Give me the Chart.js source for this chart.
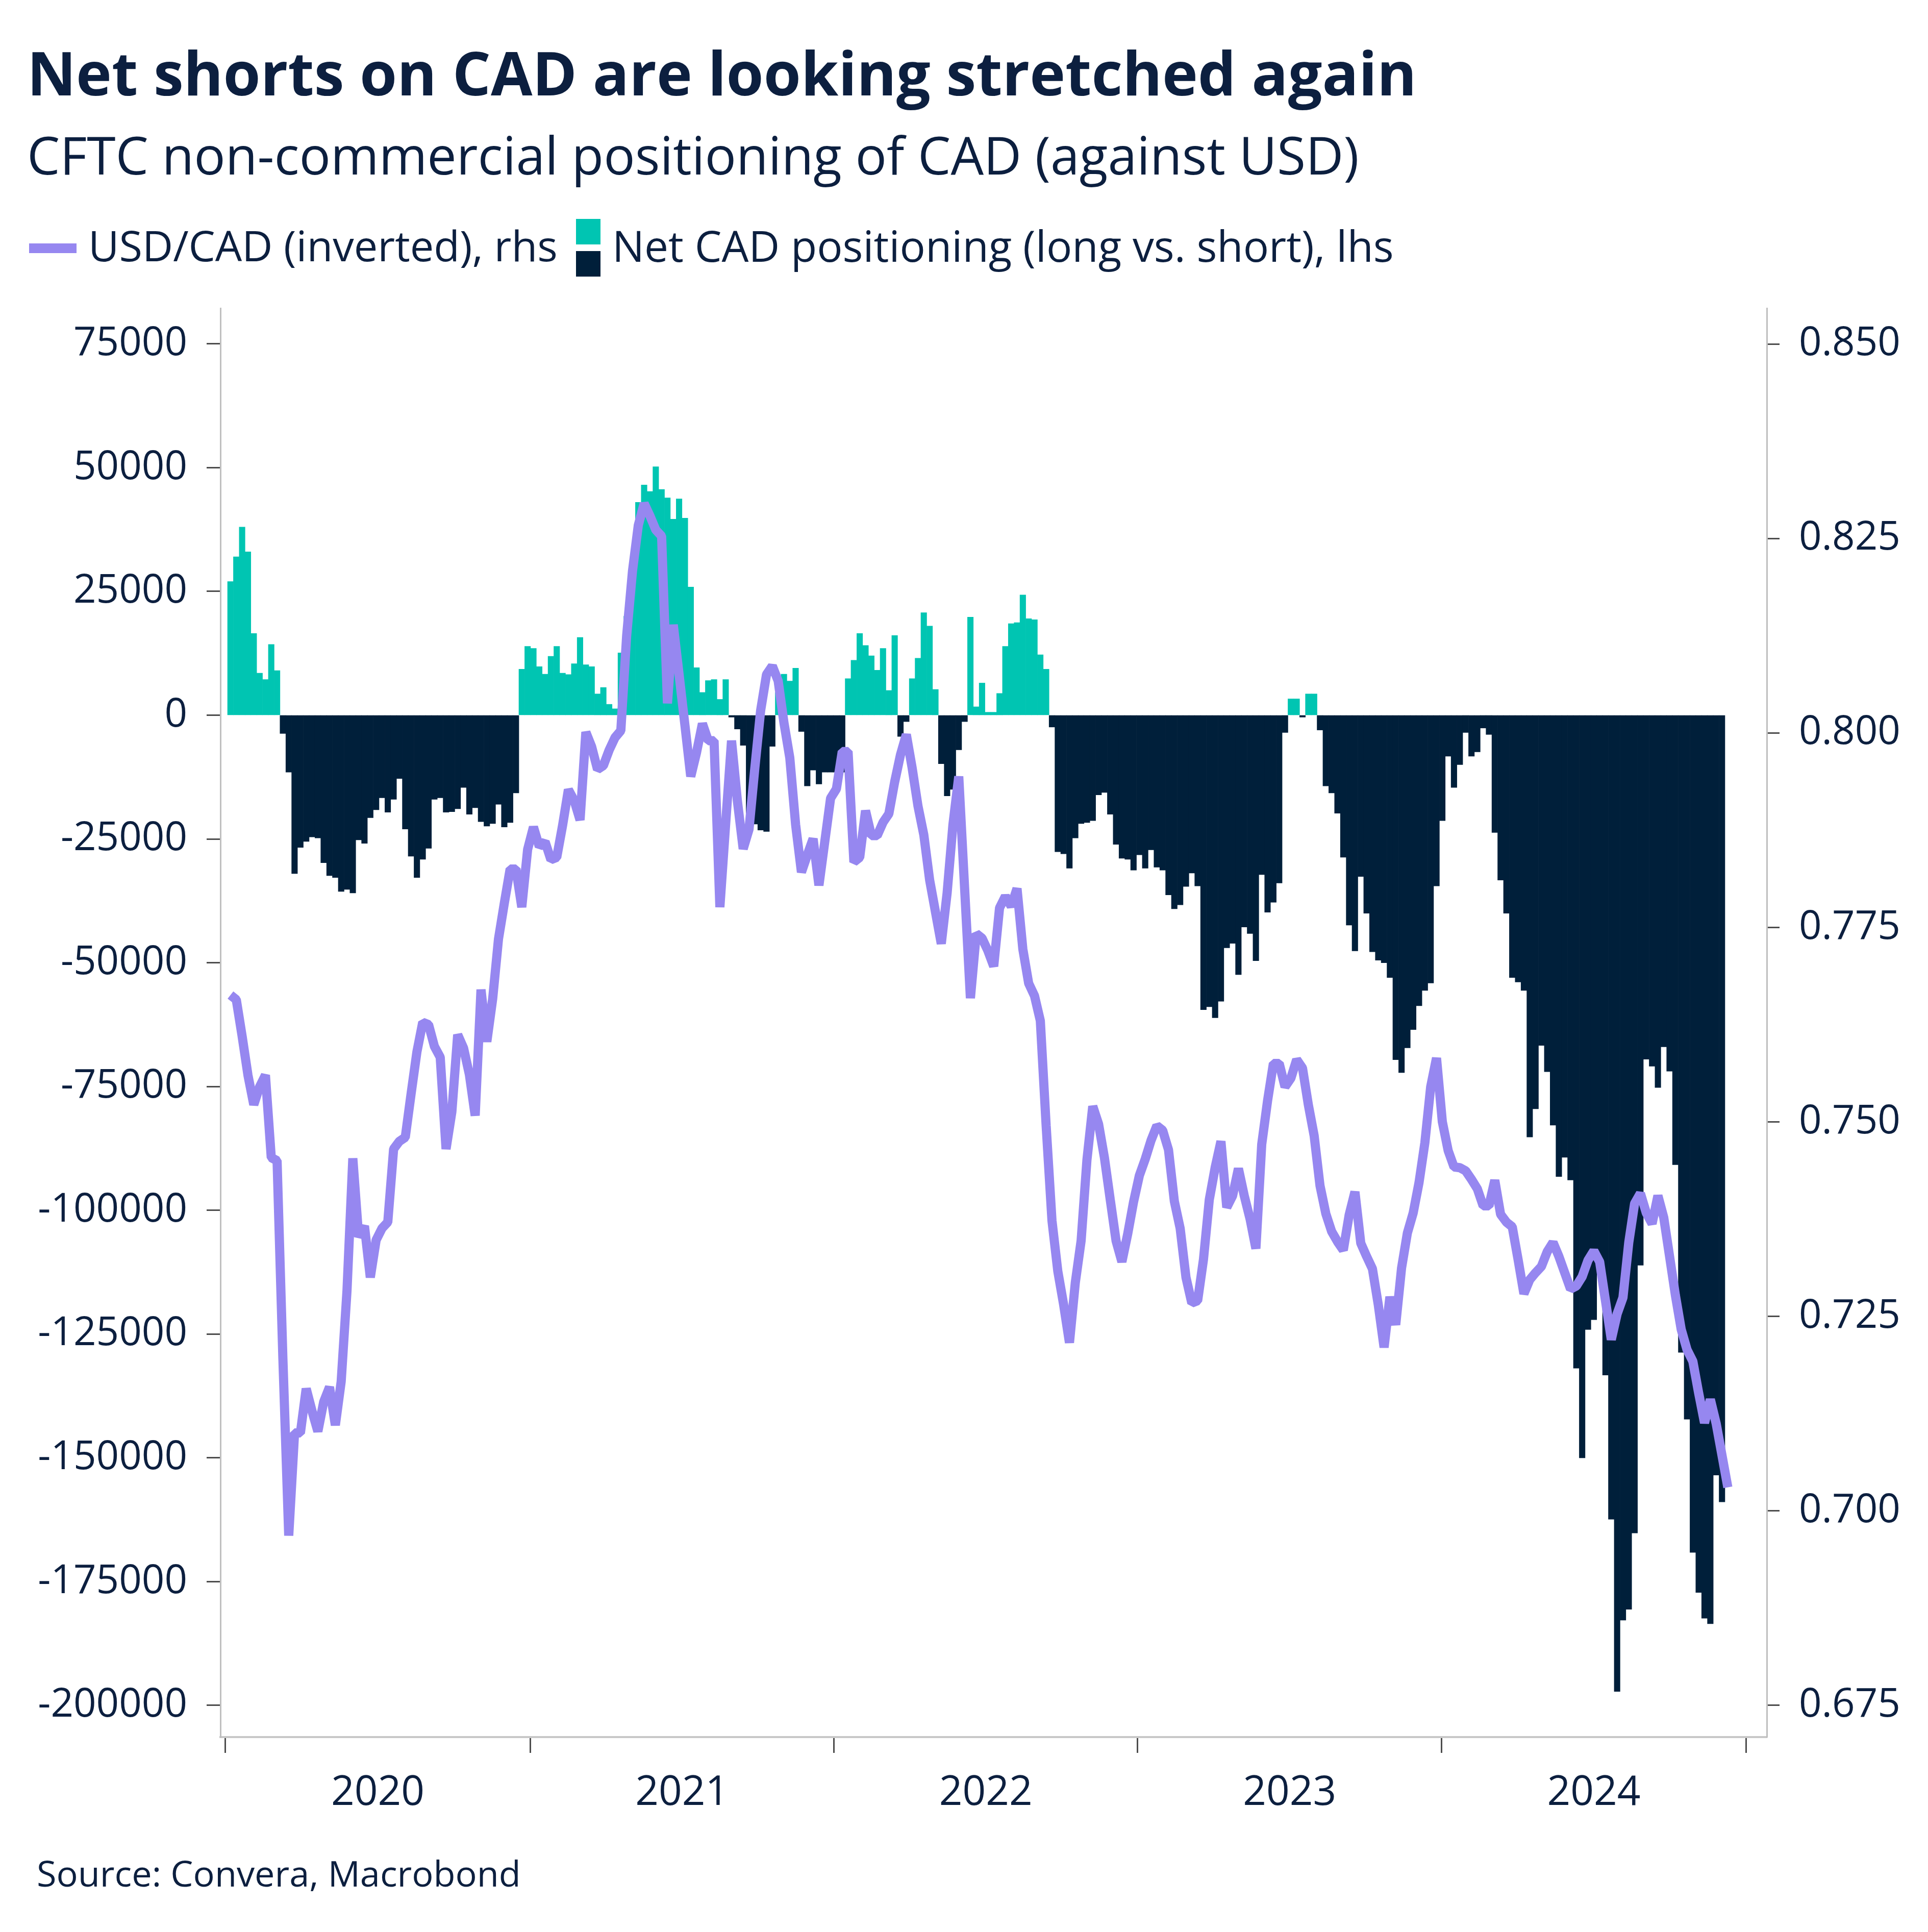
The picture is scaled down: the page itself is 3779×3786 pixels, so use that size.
<!DOCTYPE html>
<html>
<head>
<meta charset="utf-8">
<script src="https://cdn.jsdelivr.net/npm/chart.js@4.4.1/dist/chart.umd.min.js"></script>
<style>
  body { margin: 0; background: #fff; }
  #wrap { position: relative; width: 3779px; height: 3786px; overflow: hidden; font-family: 'Open Sans', sans-serif; color: #0c1f3f; }
  #chart { position: absolute; left: 0; top: 0; }
  .txt { position: absolute; white-space: nowrap; line-height: 1; }
  #title { font-weight: 700; }
  .key { position: absolute; }
</style>
</head>
<body>
<div id="wrap">
  <canvas id="chart" width="3779" height="3786"></canvas>
  <div id="title" class="txt">Net shorts on CAD are looking stretched again</div>
  <div id="subtitle" class="txt">CFTC non-commercial positioning of CAD (against USD)</div>
  <div class="key" style="left:57px;top:477px;width:93px;height:19px;background:#9687f0"></div>
  <div id="leg1" class="txt">USD/CAD (inverted), rhs</div>
  <div class="key" style="left:1129px;top:429px;width:48px;height:50px;background:#00c5b2"></div>
  <div class="key" style="left:1129px;top:492px;width:48px;height:50px;background:#001f3a"></div>
  <div id="leg2" class="txt">Net CAD positioning (long vs. short), lhs</div>
  <div id="source" class="txt">Source: Convera, Macrobond</div>
</div>
<script>
// weekly CFTC net non-commercial CAD position (contracts), first week 2020-01-07
const netPositioning = [
  27000, 32000, 38000, 33000, 16500, 8500, 7200, 14300, 9000, -3700,
  -11500, -32000, -26700, -25500, -24600, -24800, -29800, -32400, -32800, -35600,
  -35200, -35900, -25200, -25900, -20700, -19100, -16700, -19600, -17000, -12800,
  -23000, -28500, -32800, -29100, -26900, -17000, -16700, -19600, -19500, -18900,
  -14600, -20000, -18700, -21500, -22400, -21900, -18000, -22600, -21700, -15700,
  9300, 13900, 13500, 9800, 8300, 11900, 13900, 8500, 8200, 10400,
  15700, 10200, 9800, 4300, 5600, 2200, 1300, 12600, 20000, 30000,
  43000, 46500, 45200, 50200, 45600, 43900, 39600, 43700, 39800, 25900,
  9600, 4600, 7000, 7200, 3200, 7200, -400, -2800, -6100, -23000,
  -22000, -23200, -23500, -6300, 4600, 8300, 6900, 9500, -3300, -14300,
  -11100, -13900, -11500, -11500, -11500, -11500, 7400, 11100, 16500, 14100,
  12000, 9100, 13500, 5000, 16100, -4300, -1300, 7400, 11500, 20700,
  18000, 5200, -9800, -16300, -15000, -7000, -1300, 19800, 1700, 6500,
  600, 600, 4400, 13900, 18500, 18700, 24300, 19500, 19300, 12200,
  9300, -2400, -27600, -28000, -30900, -24800, -21900, -21700, -21300, -16100,
  -15600, -20000, -26100, -28900, -29100, -31300, -28200, -30900, -27200, -30700,
  -31300, -36300, -39100, -38300, -34600, -31900, -34500, -59500, -58900, -61100,
  -57800, -47000, -46100, -52400, -42800, -44100, -49600, -32200, -39800, -37800,
  -33900, -3500, 3300, 3300, -400, 4300, 4300, -3000, -14300, -15700,
  -19800, -28700, -42400, -47600, -32600, -40000, -47800, -49500, -50000, -53000,
  -69600, -72200, -67200, -63500, -58700, -55600, -54100, -34500, -21300, -8300,
  -14600, -10000, -3500, -8300, -7400, -2600, -3900, -23700, -33300, -40000,
  -53000, -53900, -55600, -85200, -79500, -66700, -72000, -82800, -93200, -89300,
  -93900, -131900, -150000, -124100, -122100, -112000, -133300, -162400, -197200, -182800,
  -180600, -165200, -111100, -69500, -70900, -75200, -67000, -71900, -90800, -128700,
  -142200, -169100, -177200, -182400, -183500, -153500, -158900
];

// weekly USD/CAD inverted (i.e. CAD/USD), same weeks plus one
const usdCadInverted = [
  0.7663, 0.7657, 0.7610, 0.7560, 0.7522, 0.7545, 0.7560, 0.7454, 0.7450, 0.7195,
  0.6968, 0.7100, 0.7100, 0.7157, 0.7128, 0.7102, 0.7140, 0.7159, 0.7110, 0.7166,
  0.7283, 0.7453, 0.7352, 0.7366, 0.7300, 0.7348, 0.7363, 0.7371, 0.7465, 0.7475,
  0.7480, 0.7536, 0.7590, 0.7628, 0.7625, 0.7597, 0.7583, 0.7465, 0.7513, 0.7612,
  0.7595, 0.7561, 0.7508, 0.7670, 0.7603, 0.7658, 0.7735, 0.7781, 0.7825, 0.7825,
  0.7776, 0.7850, 0.7879, 0.7854, 0.7860, 0.7837, 0.7840, 0.7881, 0.7927, 0.7913,
  0.7888, 0.8001, 0.7982, 0.7953, 0.7958, 0.7978, 0.7994, 0.8003, 0.8125, 0.8208,
  0.8267, 0.8295, 0.8279, 0.8261, 0.8253, 0.8038, 0.8139, 0.8075, 0.8010, 0.7944,
  0.7975, 0.8012, 0.7990, 0.7990, 0.7776, 0.7884, 0.7990, 0.7913, 0.7851, 0.7876,
  0.7955, 0.8029, 0.8075, 0.8086, 0.8067, 0.8013, 0.7968, 0.7882, 0.7821, 0.7843,
  0.7864, 0.7804, 0.7860, 0.7916, 0.7928, 0.7976, 0.7976, 0.7834, 0.7840, 0.7900,
  0.7868, 0.7868, 0.7885, 0.7896, 0.7937, 0.7972, 0.7998, 0.7955, 0.7906, 0.7869,
  0.7811, 0.7770, 0.7729, 0.7794, 0.7882, 0.7944, 0.7801, 0.7659, 0.7742, 0.7736,
  0.7720, 0.7700, 0.7775, 0.7790, 0.7777, 0.7800, 0.7722, 0.7678, 0.7662, 0.7630,
  0.7495, 0.7373, 0.7308, 0.7265, 0.7216, 0.7293, 0.7347, 0.7451, 0.7520, 0.7497,
  0.7454, 0.7400, 0.7347, 0.7320, 0.7356, 0.7397, 0.7431, 0.7452, 0.7476, 0.7495,
  0.7489, 0.7464, 0.7398, 0.7363, 0.7300, 0.7267, 0.7270, 0.7323, 0.7400, 0.7441,
  0.7475, 0.7390, 0.7405, 0.7440, 0.7405, 0.7375, 0.7337, 0.7471, 0.7527, 0.7575,
  0.7575, 0.7545, 0.7556, 0.7580, 0.7569, 0.7522, 0.7482, 0.7418, 0.7382, 0.7359,
  0.7346, 0.7335, 0.7380, 0.7410, 0.7344, 0.7327, 0.7311, 0.7265, 0.7210, 0.7275,
  0.7239, 0.7312, 0.7357, 0.7383, 0.7422, 0.7473, 0.7545, 0.7582, 0.7500, 0.7463,
  0.7442, 0.7441, 0.7437, 0.7426, 0.7414, 0.7392, 0.7392, 0.7425, 0.7381, 0.7371,
  0.7365, 0.7323, 0.7279, 0.7297, 0.7306, 0.7314, 0.7333, 0.7345, 0.7327, 0.7306,
  0.7285, 0.7289, 0.7301, 0.7322, 0.7334, 0.7320, 0.7270, 0.7220, 0.7253, 0.7274,
  0.7345, 0.7395, 0.7408, 0.7383, 0.7369, 0.7405, 0.7377, 0.7327, 0.7277, 0.7233,
  0.7207, 0.7192, 0.7151, 0.7113, 0.7143, 0.7112, 0.7071, 0.7030
];

const years = ['2020', '2021', '2022', '2023', '2024'];
const leftTicks = [75000, 50000, 25000, 0, -25000, -50000, -75000, -100000, -125000, -150000, -175000, -200000];
const rightTicks = [0.850, 0.825, 0.800, 0.775, 0.750, 0.725, 0.700, 0.675];

const teal = '#00c5b2';
const navy = '#001f3a';
const purple = '#9687f0';
const textColor = '#0c1f3f';

// x axis runs in days from 1 Jan 2020
const DAY = 864e5;
const origin = Date.UTC(2020, 0, 1);
const firstWeek = Date.UTC(2020, 0, 7);
const dayOf = k => (firstWeek - origin) / DAY + 7 * k;
const yearStart = y => (Date.UTC(y, 0, 1) - origin) / DAY;
const bounds = years.map(y => yearStart(+y)).concat(yearStart(+years[years.length - 1] + 1));
const mids = years.map(y => (yearStart(+y) + yearStart(+y + 1)) / 2);
const xTicks = bounds.concat(mids).sort((a, b) => a - b);

// text blocks: fitted to the widths measured on the reference
function placeText(id, x, baseline, width, size) {
  const el = document.getElementById(id);
  el.style.fontSize = size + 'px';
  const w = el.getBoundingClientRect().width;
  const s = size * width / w;
  el.style.fontSize = s + 'px';
  el.style.left = x + 'px';
  el.style.top = (baseline - 0.888 * s) + 'px';
}
function layoutText() {
  placeText('title', 53, 188, 2724, 110);
  placeText('subtitle', 53, 343, 2611, 92);
  placeText('leg1', 173, 513, 920, 76);
  placeText('leg2', 1200, 513, 1532, 76);
  placeText('source', 72, 3697, 949, 76);
}
layoutText();
if (document.fonts) document.fonts.ready.then(layoutText);

Chart.defaults.font.family = "'Open Sans', sans-serif";
Chart.defaults.font.size = 78;
Chart.defaults.color = textColor;

function isYearTick(c) {
  const v = c.tick ? c.tick.value : xTicks[c.index];
  return bounds.includes(v);
}

const ctx = document.getElementById('chart').getContext('2d');
new Chart(ctx, {
  type: 'bar',
  data: {
    datasets: [
      {
        type: 'line',
        label: 'USD/CAD (inverted), rhs',
        data: usdCadInverted.map((v, k) => ({ x: dayOf(k), y: v })),
        yAxisID: 'y2',
        borderColor: purple,
        borderWidth: 18,
        borderJoinStyle: 'bevel',
        pointRadius: 0,
        tension: 0,
        order: 0
      },
      {
        type: 'bar',
        label: 'Net CAD positioning (long vs. short), lhs',
        data: netPositioning.map((v, k) => ({ x: dayOf(k), y: v })),
        yAxisID: 'y',
        backgroundColor: netPositioning.map(v => v >= 0 ? teal : navy),
        barPercentage: 1,
        categoryPercentage: 1,
        borderWidth: 0,
        order: 1
      }
    ]
  },
  options: {
    responsive: false,
    devicePixelRatio: 1,
    animation: false,
    layout: { padding: { top: 604, left: 0, right: 0, bottom: 0 } },
    plugins: { legend: { display: false }, tooltip: { enabled: false } },
    scales: {
      x: {
        type: 'linear',
        min: -6.1,
        max: 1851.8,
        offset: false,
        afterBuildTicks: s => { s.ticks = xTicks.map(v => ({ value: v })); },
        afterFit: s => { s.height = 382; },
        grid: {
          offset: false,
          drawOnChartArea: false,
          tickLength: 31,
          tickWidth: 3,
          tickColor: c => isYearTick(c) ? '#4d4d4d' : 'rgba(0,0,0,0)'
        },
        border: { color: '#c8c8c8', width: 4 },
        ticks: {
          autoSkip: false,
          maxRotation: 0,
          padding: 31,
          font: { size: 80 },
          callback: v => {
            const i = mids.indexOf(v);
            return i >= 0 ? years[i] : '';
          }
        }
      },
      y: {
        position: 'left',
        min: -206400,
        max: 82200,
        afterBuildTicks: s => { s.ticks = leftTicks.map(v => ({ value: v })); },
        afterFit: s => { s.width = 432; },
        grid: { drawOnChartArea: false, tickLength: 27, tickWidth: 3, tickColor: '#4d4d4d' },
        border: { color: '#bfbfbf', width: 3 },
        ticks: { padding: 38, callback: v => String(v) }
      },
      y2: {
        position: 'right',
        min: 0.6709,
        max: 0.8546,
        afterBuildTicks: s => { s.ticks = rightTicks.map(v => ({ value: v })); },
        afterFit: s => { s.width = 316; },
        grid: { drawOnChartArea: false, tickLength: 25, tickWidth: 3, tickColor: '#4d4d4d' },
        border: { color: '#bfbfbf', width: 3 },
        ticks: { padding: 38, callback: v => v.toFixed(3) }
      }
    }
  }
});
</script>
</body>
</html>
